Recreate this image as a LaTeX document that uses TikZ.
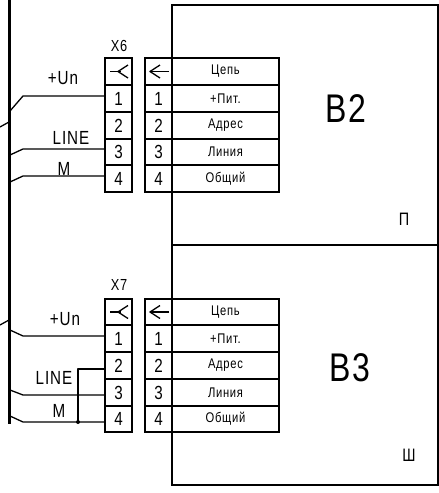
\documentclass[tikz,border=0pt]{standalone}
\usepackage{fontspec}
\setmainfont[FakeStretch=0.8,LetterSpace=5]{Liberation Sans}
\newcommand{\fs}[1]{\fontsize{#1}{#1}\selectfont}
\tikzset{
  every node/.style={outer sep=0pt},
  wire/.style={line width=1.3pt,line join=round},
  cell/.style={draw,line width=1.5pt,minimum width=27pt,inner sep=0pt,anchor=north west,font=\fs{19}},
  tcell/.style={draw,line width=1.5pt,minimum width=107pt,inner sep=0pt,anchor=north west,font=\fs{14}},
  lbl/.style={inner sep=0pt,font=\fs{19}},
  body/.style={draw,line width=1.5pt,minimum width=266pt,minimum height=240pt,inner sep=0pt,anchor=north west},
  tag/.style={inner sep=0pt,font=\fs{16}},
  marktag/.style={inner sep=0pt,font=\fs{18}},
  big/.style={inner sep=0pt,font=\fs{40}},
  busline/.style={line width=3pt},
  dot/.style={circle,fill,inner sep=0pt,minimum size=4pt}
}
\newcommand{\plugsym}[1]{%
  \draw[wire] ([xshift=5pt]#1.west) -- ([xshift=16pt]#1.west);
  \draw[wire] ([xshift=23pt,yshift=6.5pt]#1.west) -- ([xshift=13pt]#1.west) -- ([xshift=23pt,yshift=-6.5pt]#1.west);}
\newcommand{\socksym}[1]{%
  \draw[wire] ([xshift=24pt]#1.west) -- ([xshift=5pt]#1.west);
  \draw[wire] ([xshift=15pt,yshift=6.5pt]#1.west) -- ([xshift=5pt]#1.west) -- ([xshift=15pt,yshift=-6.5pt]#1.west);}
\begin{document}
\begin{tikzpicture}[x=1pt,y=-1pt]
\useasboundingbox (0,0) rectangle (439,493);
% device bodies
\node[body] (b2) at (172,5) {};
\node[body] (b3) at (172,245) {};
\node[big] (b2t) at (346,109) {B2};
\node[big] (b3t) at (350,368) {B3};
\node[marktag] (b2m) at (404,219) {П};
\node[marktag] (b3m) at (409,455) {Ш};
% bus
\coordinate (bust) at (9,0);
\coordinate (busb) at (9,424);
\draw[busline] (bust) -- (busb);
% X6
\node[cell,minimum height=27pt] (a0) at (105,58) {};
\node[cell,minimum height=27pt] (a1) at (105,85) {1};
\node[cell,minimum height=27pt] (a2) at (105,112) {2};
\node[cell,minimum height=26pt] (a3) at (105,139) {3};
\node[cell,minimum height=27pt] (a4) at (105,165) {4};
\node[cell,minimum height=27pt] (c0) at (145,58) {};
\node[cell,minimum height=27pt] (c1) at (145,85) {1};
\node[cell,minimum height=27pt] (c2) at (145,112) {2};
\node[cell,minimum height=26pt] (c3) at (145,139) {3};
\node[cell,minimum height=27pt] (c4) at (145,165) {4};
\node[tcell,minimum height=27pt] (t0) at (172,58) {Цепь};
\node[tcell,minimum height=27pt] (t1) at (172,85) {+Пит.};
\node[tcell,minimum height=27pt] (t2) at (172,112) {Адрес};
\node[tcell,minimum height=26pt] (t3) at (172,139) {Линия};
\node[tcell,minimum height=27pt] (t4) at (172,165) {Общий};
\plugsym{a0}\socksym{c0}
\node[tag] (x6) at (119,46) {X6};
% X7
\node[cell,minimum height=26pt] (d0) at (105,299) {};
\node[cell,minimum height=27pt] (d1) at (105,325) {1};
\node[cell,minimum height=27pt] (d2) at (105,352) {2};
\node[cell,minimum height=27pt] (d3) at (105,379) {3};
\node[cell,minimum height=26pt] (d4) at (105,406) {4};
\node[cell,minimum height=26pt] (e0) at (145,299) {};
\node[cell,minimum height=27pt] (e1) at (145,325) {1};
\node[cell,minimum height=27pt] (e2) at (145,352) {2};
\node[cell,minimum height=27pt] (e3) at (145,379) {3};
\node[cell,minimum height=26pt] (e4) at (145,406) {4};
\node[tcell,minimum height=26pt] (u0) at (172,299) {Цепь};
\node[tcell,minimum height=27pt] (u1) at (172,325) {+Пит.};
\node[tcell,minimum height=27pt] (u2) at (172,352) {Адрес};
\node[tcell,minimum height=27pt] (u3) at (172,379) {Линия};
\node[tcell,minimum height=26pt] (u4) at (172,406) {Общий};
\plugsym{d0}\socksym{e0}
\node[tag] (x7) at (119,285) {X7};
% wires X6
\coordinate (p1) at (10,111); \coordinate (q1) at (23,96);
\coordinate (p3) at (10,155); \coordinate (q3) at (23,149);
\coordinate (p4) at (10,182); \coordinate (q4) at (23,176);
\coordinate (s1) at (0,127); \coordinate (s2) at (9,122);
\draw[wire] (p1) -- (q1) -- (q1 -| a1.west);
\draw[wire] (p3) -- (q3) -- (q3 -| a3.west);
\draw[wire] (p4) -- (q4) -- (q4 -| a4.west);
\draw[wire] (s1) -- (s2);
\node[lbl] (un1) at (63,78) {+Un};
\node[lbl] (li1) at (71,138) {LINE};
\node[lbl] (m1) at (64,169) {M};
% wires X7
\coordinate (r1) at (10,330); \coordinate (v1) at (23,336);
\coordinate (r3) at (10,390); \coordinate (v3) at (23,395);
\coordinate (r4) at (10,416); \coordinate (v4) at (23,422);
\coordinate (s3) at (0,325); \coordinate (s4) at (9,320);
\coordinate (j2) at (78,369);
\draw[wire] (r1) -- (v1) -- (v1 -| d1.west);
\draw[wire] (r3) -- (v3) -- (v3 -| d3.west);
\draw[wire] (r4) -- (v4) -- (v4 -| d4.west);
\draw[wire] (s3) -- (s4);
\node[dot] (jd) at (78,422) {};
\draw[wire] (j2 -| d2.west) -- (j2) -- (jd.center);
\node[lbl] (un2) at (65,319) {+Un};
\node[lbl] (li2) at (54,378) {LINE};
\node[lbl] (m2) at (59,411) {M};
\end{tikzpicture}
\end{document}
